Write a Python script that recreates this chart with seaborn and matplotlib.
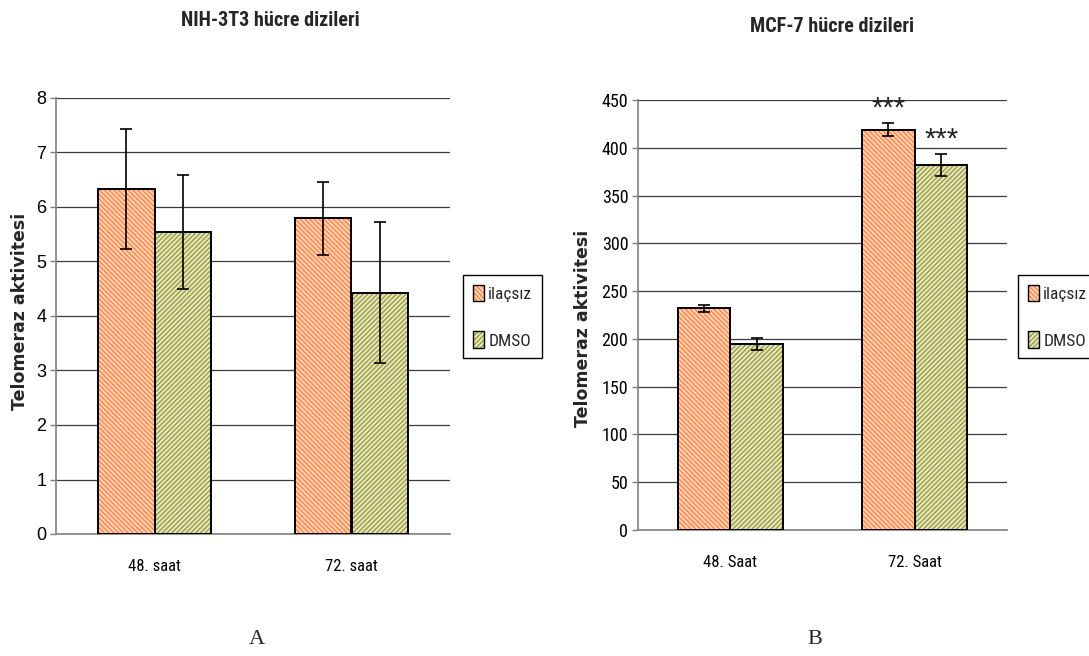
import numpy as np
import pandas as pd
import matplotlib
matplotlib.use("Agg")
import matplotlib.pyplot as plt
import seaborn as sns
from matplotlib.patches import Rectangle
from matplotlib.legend_handler import HandlerTuple
from matplotlib import font_manager

# ---------------- data ----------------
series = ["ilaçsız", "DMSO"]

cats_a = ["48. saat", "72. saat"]
ilacsiz_a = [6.33, 5.79]
dmso_a = [5.54, 4.43]
ilacsiz_a_err = [1.10, 0.67]
dmso_a_err = [1.05, 1.29]

cats_b = ["48. Saat", "72. Saat"]
ilacsiz_b = [232, 419]
dmso_b = [195, 382]
ilacsiz_b_err = [3.5, 7.0]
dmso_b_err = [6.3, 11.7]
ilacsiz_b_sig = ["", "***"]
dmso_b_sig = ["", "***"]

title_a = "NIH-3T3 hücre dizileri"
title_b = "MCF-7 hücre dizileri"
ylabel = "Telomeraz aktivitesi"
ticks_a = [0, 1, 2, 3, 4, 5, 6, 7, 8]
ticks_b = [0, 50, 100, 150, 200, 250, 300, 350, 400, 450]

# ---------------- style ----------------
sns.set_theme(style="white")
avail = {f.name for f in font_manager.fontManager.ttflist}
def pick(names):
    for n in names:
        if n in avail:
            return n
    return "DejaVu Sans"
NARROW = pick(["Liberation Sans Narrow", "Arial Narrow", "Roboto Condensed", "Liberation Sans"])
SANS = pick(["Liberation Sans", "Arial", "DejaVu Sans"])
SERIF = pick(["Liberation Serif", "Times New Roman", "DejaVu Serif"])
plt.rcParams["font.family"] = [SANS, "DejaVu Sans"]
plt.rcParams["hatch.linewidth"] = 0.9

face_cols = {"ilaçsız": "#FFD2B4", "DMSO": "#E6E6BC"}
hatch_cols = {"ilaçsız": "#FF7E3C", "DMSO": "#96963A"}
hatches = {"ilaçsız": "\\" * 7, "DMSO": "/" * 7}
leg_hatches = {"ilaçsız": "\\" * 7, "DMSO": "/" * 7}

fig = plt.figure(figsize=(10.89, 6.56), dpi=100)


def panel(ax, cats, v1, v2, e1, e2, ticks, tick_font, title, title_xy, leg_xy,
          ylab_xy, width, sig1=None, sig2=None):
    df = pd.DataFrame({
        "cat": list(cats) * 2,
        "series": [series[0]] * len(cats) + [series[1]] * len(cats),
        "val": list(v1) + list(v2),
    })
    sns.barplot(data=df, x="cat", y="val", hue="series", order=cats,
                hue_order=series, palette=face_cols, width=width, gap=0,
                errorbar=None, ax=ax, legend=False, zorder=2)
    errs = [e1, e2]
    sigs = [sig1, sig2]
    conts = list(ax.containers)
    for si, cont in enumerate(conts):
        s = series[si]
        for bi, p in enumerate(cont.patches):
            p.set_facecolor(face_cols[s])
            p.set_hatch(hatches[s])
            p.set_edgecolor(hatch_cols[s])
            p.set_linewidth(0)
            ax.add_patch(Rectangle((p.get_x(), p.get_y()), p.get_width(), p.get_height(),
                                   fill=False, edgecolor="black", lw=1.4, zorder=3))
            xc = p.get_x() + p.get_width() / 2
            yv = p.get_height()
            ax.errorbar(xc, yv, yerr=errs[si][bi], color="black", lw=1.2,
                        capsize=4, capthick=1.2, zorder=4)
            if sigs[si] is not None and sigs[si][bi]:
                ax.annotate(sigs[si][bi], (xc, yv + errs[si][bi]), xytext=(0, 0),
                            textcoords="offset points", ha="center", va="bottom",
                            fontsize=21, color="#222222", zorder=5)
    ax.set_ylim(ticks[0], ticks[-1])
    ax.set_xlim(-0.5, len(cats) - 0.5)
    ax.set_yticks(ticks)
    ax.set_yticklabels([str(t) for t in ticks], fontsize=13, family=tick_font)
    ax.set_xticks(range(len(cats)))
    ax.set_xticklabels(cats, fontsize=12, family=NARROW)
    ax.set_xticks(np.arange(-0.5, len(cats)), minor=True)
    ax.tick_params(axis="x", which="major", length=0, pad=18, colors="black")
    ax.tick_params(axis="x", which="minor", length=7, width=1, color="#808080", direction="out")
    ax.tick_params(axis="y", length=4, width=1, color="#808080", direction="out", pad=3,
                   left=True, labelcolor="black")
    ax.yaxis.grid(True, color="#3a3a3a", lw=0.9)
    ax.xaxis.grid(False)
    ax.set_axisbelow(True)
    for sp in ["top", "right"]:
        ax.spines[sp].set_visible(False)
    for sp in ["left", "bottom"]:
        ax.spines[sp].set_color("#808080")
        ax.spines[sp].set_linewidth(1.2)
    ax.set_xlabel("")
    ax.set_ylabel(ylabel, fontsize=12.5, fontweight="bold", family="DejaVu Sans")
    ax.yaxis.set_label_coords(*ylab_xy)
    fig.text(title_xy[0] / 1089, 1 - title_xy[1] / 656, title, ha="center", va="center",
             fontsize=14.5, fontweight="bold", family=NARROW)
    handles = []
    for s in series:
        h1 = Rectangle((0, 0), 1, 1, facecolor=face_cols[s], edgecolor=hatch_cols[s],
                       hatch=leg_hatches[s], lw=0)
        h2 = Rectangle((0, 0), 1, 1, fill=False, edgecolor="black", lw=1)
        handles.append((h1, h2))
    leg = ax.legend(handles, series, handler_map={tuple: HandlerTuple(ndivide=1, pad=0)},
                    loc="upper left", bbox_to_anchor=(leg_xy[0] / 1089, 1 - leg_xy[1] / 656),
                    bbox_transform=fig.transFigure, frameon=True, fancybox=False,
                    edgecolor="black", framealpha=1, prop={"family": NARROW, "size": 12.5},
                    handlelength=0.65, handleheight=1.1, handletextpad=0.25,
                    labelspacing=1.7, borderpad=0.55, borderaxespad=0)
    leg.get_frame().set_linewidth(1.0)


ax_a = fig.add_axes([56 / 1089, 1 - 534 / 656, 394 / 1089, 436 / 656])
panel(ax_a, cats_a, ilacsiz_a, dmso_a, ilacsiz_a_err, dmso_a_err, ticks_a, SANS,
      title_a, (270, 20), (463, 275), (-0.068, 0.51), 0.575)

ax_b = fig.add_axes([638 / 1089, 1 - 530 / 656, 369 / 1089, 430 / 656])
panel(ax_b, cats_b, ilacsiz_b, dmso_b, ilacsiz_b_err, dmso_b_err, ticks_b, NARROW,
      title_b, (832, 27), (1018, 275), (-0.125, 0.47), 0.57,
      ilacsiz_b_sig, dmso_b_sig)

fig.text(257 / 1089, 1 - 640 / 656, "A", ha="center", va="center", fontsize=16, family=SERIF)
fig.text(815 / 1089, 1 - 640 / 656, "B", ha="center", va="center", fontsize=16, family=SERIF)

fig.savefig("out.png", dpi=100)
